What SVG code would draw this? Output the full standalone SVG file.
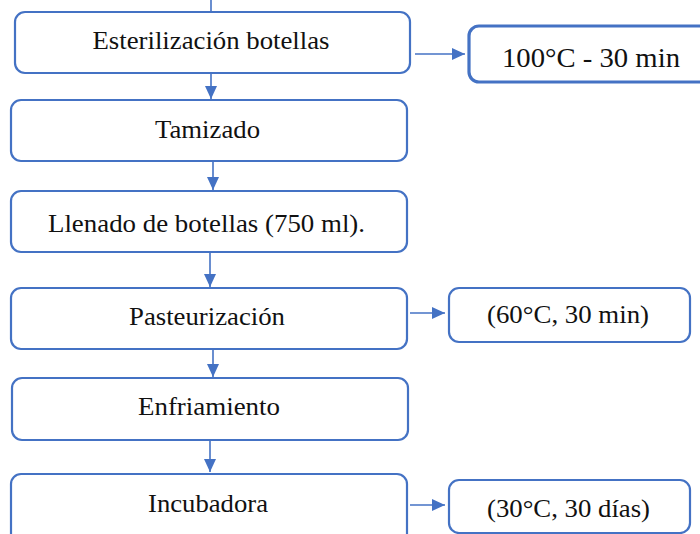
<svg xmlns="http://www.w3.org/2000/svg" width="700" height="534" viewBox="0 0 700 534">
<style>
.box{fill:#fff;stroke:#4472C4;stroke-width:2.2}
.thick{stroke-width:3.2}
text{font-family:'Liberation Serif','DejaVu Serif',serif;font-size:26px;fill:#111;text-anchor:middle}
.big{font-size:28px}
.con{stroke:#4472C4;stroke-width:1.6;fill:none}
</style>
<defs>
<marker id="ah" markerUnits="userSpaceOnUse" markerWidth="14" markerHeight="14" viewBox="0 0 14 14" refX="13" refY="7" orient="auto">
<path d="M0,1 L13,7 L0,13 Z" fill="#4472C4"/>
</marker>
</defs>
<rect width="700" height="534" fill="#fff"/>
<g id="connectors">
<line class="con" x1="211" y1="0" x2="211" y2="12"/>
<line class="con" x1="211" y1="73" x2="211" y2="99" marker-end="url(#ah)"/>
<line class="con" x1="213" y1="161" x2="213" y2="190" marker-end="url(#ah)"/>
<line class="con" x1="210" y1="252" x2="210" y2="287" marker-end="url(#ah)"/>
<line class="con" x1="213" y1="349" x2="213" y2="377" marker-end="url(#ah)"/>
<line class="con" x1="210" y1="440" x2="210" y2="472" marker-end="url(#ah)"/>
<line class="con" x1="415" y1="54" x2="465" y2="54" marker-end="url(#ah)"/>
<line class="con" x1="410" y1="313" x2="445" y2="313" marker-end="url(#ah)"/>
<line class="con" x1="410" y1="505" x2="445" y2="505" marker-end="url(#ah)"/>
</g>
<g id="n1"><rect class="box" x="15" y="12" width="395" height="61" rx="10"/><text font-family="Liberation Serif, serif" x="211" y="49" textLength="237" lengthAdjust="spacingAndGlyphs">Esterilización botellas</text></g>
<g id="n1b"><rect class="box thick" x="469" y="26" width="250" height="56" rx="10"/><text class="big" font-family="Liberation Serif, serif" x="591" y="67" textLength="178" lengthAdjust="spacingAndGlyphs">100°C - 30 min</text></g>
<g id="n2"><rect class="box" x="11" y="100" width="396" height="61" rx="10"/><text font-family="Liberation Serif, serif" x="207.5" y="138" textLength="105" lengthAdjust="spacingAndGlyphs">Tamizado</text></g>
<g id="n3"><rect class="box" x="11" y="191" width="396" height="61" rx="10"/><text font-family="Liberation Serif, serif" x="206.5" y="232" textLength="317" lengthAdjust="spacingAndGlyphs">Llenado de botellas (750 ml).</text></g>
<g id="n4"><rect class="box" x="11" y="288" width="396" height="61" rx="10"/><text font-family="Liberation Serif, serif" x="207" y="325" textLength="156" lengthAdjust="spacingAndGlyphs">Pasteurización</text></g>
<g id="n4b"><rect class="box" x="449" y="288" width="241" height="54" rx="10"/><text font-family="Liberation Serif, serif" x="568" y="323" textLength="162" lengthAdjust="spacingAndGlyphs">(60°C, 30 min)</text></g>
<g id="n5"><rect class="box" x="12" y="378" width="396" height="62" rx="10"/><text font-family="Liberation Serif, serif" x="209" y="415" textLength="142" lengthAdjust="spacingAndGlyphs">Enfriamiento</text></g>
<g id="n6"><rect class="box" x="11" y="474" width="396" height="70" rx="10"/><text font-family="Liberation Serif, serif" x="208" y="512" textLength="120" lengthAdjust="spacingAndGlyphs">Incubadora</text></g>
<g id="n6b"><rect class="box" x="449" y="480" width="241" height="53" rx="10"/><text font-family="Liberation Serif, serif" x="568.5" y="517" textLength="163" lengthAdjust="spacingAndGlyphs">(30°C, 30 días)</text></g>
</svg>
